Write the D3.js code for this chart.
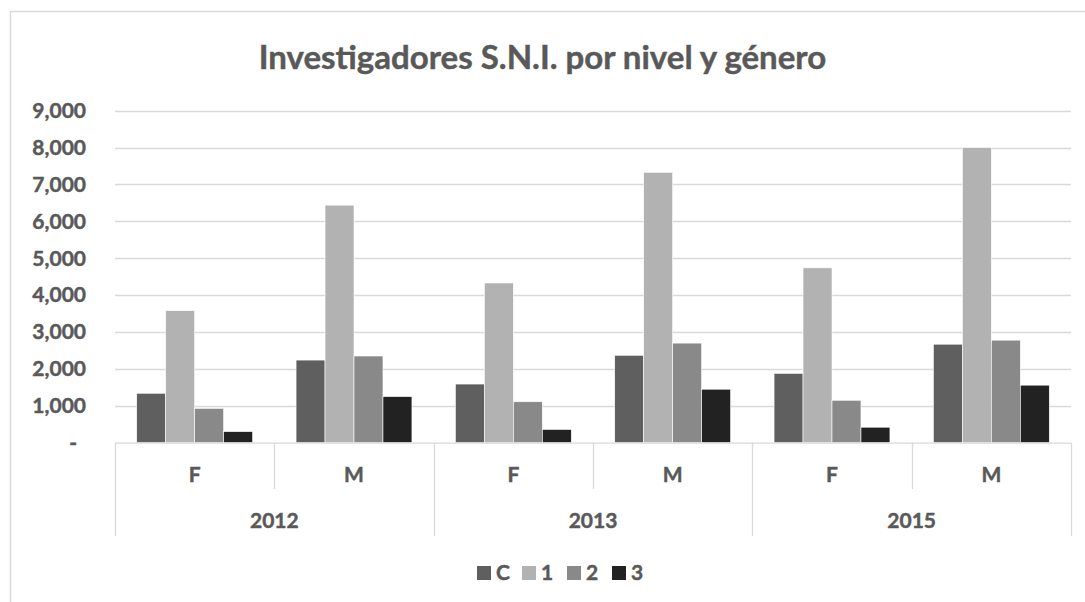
<!DOCTYPE html>
<html>
<head>
<meta charset="utf-8">
<script src="https://cdn.jsdelivr.net/npm/d3@7"></script>
<style>
  body { margin: 0; background: #fff; }
  svg { display: block; font-family: Lato, "Open Sans", sans-serif; font-weight: bold; }
  svg text { stroke: #595959; stroke-width: 0.45px; }
</style>
</head>
<body>
<svg width="1085" height="602"></svg>
<script>
const years = ["2012", "2013", "2015"];
const genders = ["F", "M"];
const series = ["C", "1", "2", "3"];
const valuesC = [1340, 2240, 1590, 2370, 1880, 2670];
const values1 = [3580, 6440, 4330, 7330, 4740, 8000];
const values2 = [930, 2350, 1110, 2700, 1150, 2780];
const values3 = [300, 1250, 360, 1450, 420, 1560];
const yTicks = [0, 1000, 2000, 3000, 4000, 5000, 6000, 7000, 8000, 9000];

const colors = { C: "#5f5f5f", 1: "#b2b2b2", 2: "#898989", 3: "#222222" };
const textColor = "#595959";
const gridColor = "#d9d9d9";

const seriesValues = { C: valuesC, 1: values1, 2: values2, 3: values3 };
const cats = [];
years.forEach(yr => genders.forEach(g => cats.push({ key: yr + "-" + g, year: yr, gender: g })));
const rows = cats.map((c, i) => ({ ...c, vals: series.map(s => ({ s, v: seriesValues[s][i] })) }));

const svg = d3.select("svg");
const plotLeft = 115, plotRight = 1071, plotTop = 110.7, plotBottom = 442.7;

// chart border
svg.append("rect")
  .attr("x", 10.5).attr("y", 11.5)
  .attr("width", 1100).attr("height", 700)
  .attr("fill", "none").attr("stroke", gridColor).attr("stroke-width", 1.5);

const x0 = d3.scaleBand().domain(cats.map(c => c.key)).range([plotLeft, plotRight]).padding(0);
const x1 = d3.scaleBand().domain(series).range([0, x0.bandwidth()]).paddingInner(0).paddingOuter(0.75);
const y = d3.scaleLinear().domain([0, 9000]).range([plotBottom, plotTop]);

// gridlines
svg.append("g").selectAll("line")
  .data(yTicks.filter(d => d > 0))
  .enter().append("line")
  .attr("x1", plotLeft).attr("x2", plotRight)
  .attr("y1", d => Math.round(y(d)) + 0.5).attr("y2", d => Math.round(y(d)) + 0.5)
  .attr("stroke", gridColor).attr("stroke-width", 1.3);

// y labels
svg.append("g").selectAll("text")
  .data(yTicks)
  .enter().append("text")
  .attr("x", d => d === 0 ? 77 : 86)
  .attr("y", d => y(d))
  .attr("dy", "0.35em")
  .attr("text-anchor", "end")
  .attr("fill", textColor)
  .attr("font-size", 21)
  .text(d => d === 0 ? "-" : d3.format(",")(d));

// bars
const groups = svg.append("g").selectAll("g")
  .data(rows)
  .enter().append("g")
  .attr("transform", d => `translate(${x0(d.key)},0)`);

groups.selectAll("rect")
  .data(d => d.vals)
  .enter().append("rect")
  .attr("x", d => x1(d.s))
  .attr("y", d => y(d.v))
  .attr("width", x1.bandwidth())
  .attr("height", d => plotBottom - y(d.v))
  .attr("fill", d => colors[d.s])
  .attr("stroke", "#ffffff")
  .attr("stroke-width", 0.6);

// category axis
const axis = svg.append("g").attr("stroke", gridColor).attr("stroke-width", 1.3);
axis.append("line").attr("x1", plotLeft).attr("x2", plotRight).attr("y1", plotBottom + 0.5).attr("y2", plotBottom + 0.5);

const yearScale = d3.scaleBand().domain(years).range([plotLeft, plotRight]).padding(0);
const bounds = d3.range(cats.length + 1).map(i => plotLeft + i * x0.step());
axis.selectAll(".sep")
  .data(bounds)
  .enter().append("line")
  .attr("x1", d => Math.round(d) + 0.5).attr("x2", d => Math.round(d) + 0.5)
  .attr("y1", plotBottom)
  .attr("y2", (d, i) => i % genders.length === 0 ? 536 : 489);

svg.append("g").selectAll("text")
  .data(cats)
  .enter().append("text")
  .attr("x", d => x0(d.key) + x0.bandwidth() / 2)
  .attr("y", 475)
  .attr("dy", "0.35em")
  .attr("text-anchor", "middle")
  .attr("fill", textColor)
  .attr("font-size", 21)
  .text(d => d.gender);

svg.append("g").selectAll("text")
  .data(years)
  .enter().append("text")
  .attr("x", d => yearScale(d) + yearScale.bandwidth() / 2)
  .attr("y", 521)
  .attr("dy", "0.35em")
  .attr("text-anchor", "middle")
  .attr("fill", textColor)
  .attr("font-size", 21)
  .text(d => d);

// title
svg.append("text")
  .attr("x", 1085 / 2)
  .attr("y", 57)
  .attr("dy", "0.35em")
  .attr("text-anchor", "middle")
  .attr("fill", textColor)
  .attr("font-size", 33)
  .text("Investigadores S.N.I. por nivel y género");

// legend
const legend = svg.append("g").selectAll("g")
  .data(series)
  .enter().append("g")
  .attr("transform", (d, i) => `translate(${477 + i * 45},573)`);
legend.append("rect")
  .attr("x", 0).attr("y", -7)
  .attr("width", 14).attr("height", 14)
  .attr("fill", d => colors[d]);
legend.append("text")
  .attr("x", 19).attr("y", 0)
  .attr("dy", "0.35em")
  .attr("fill", textColor)
  .attr("font-size", 21)
  .text(d => d);
</script>
</body>
</html>
